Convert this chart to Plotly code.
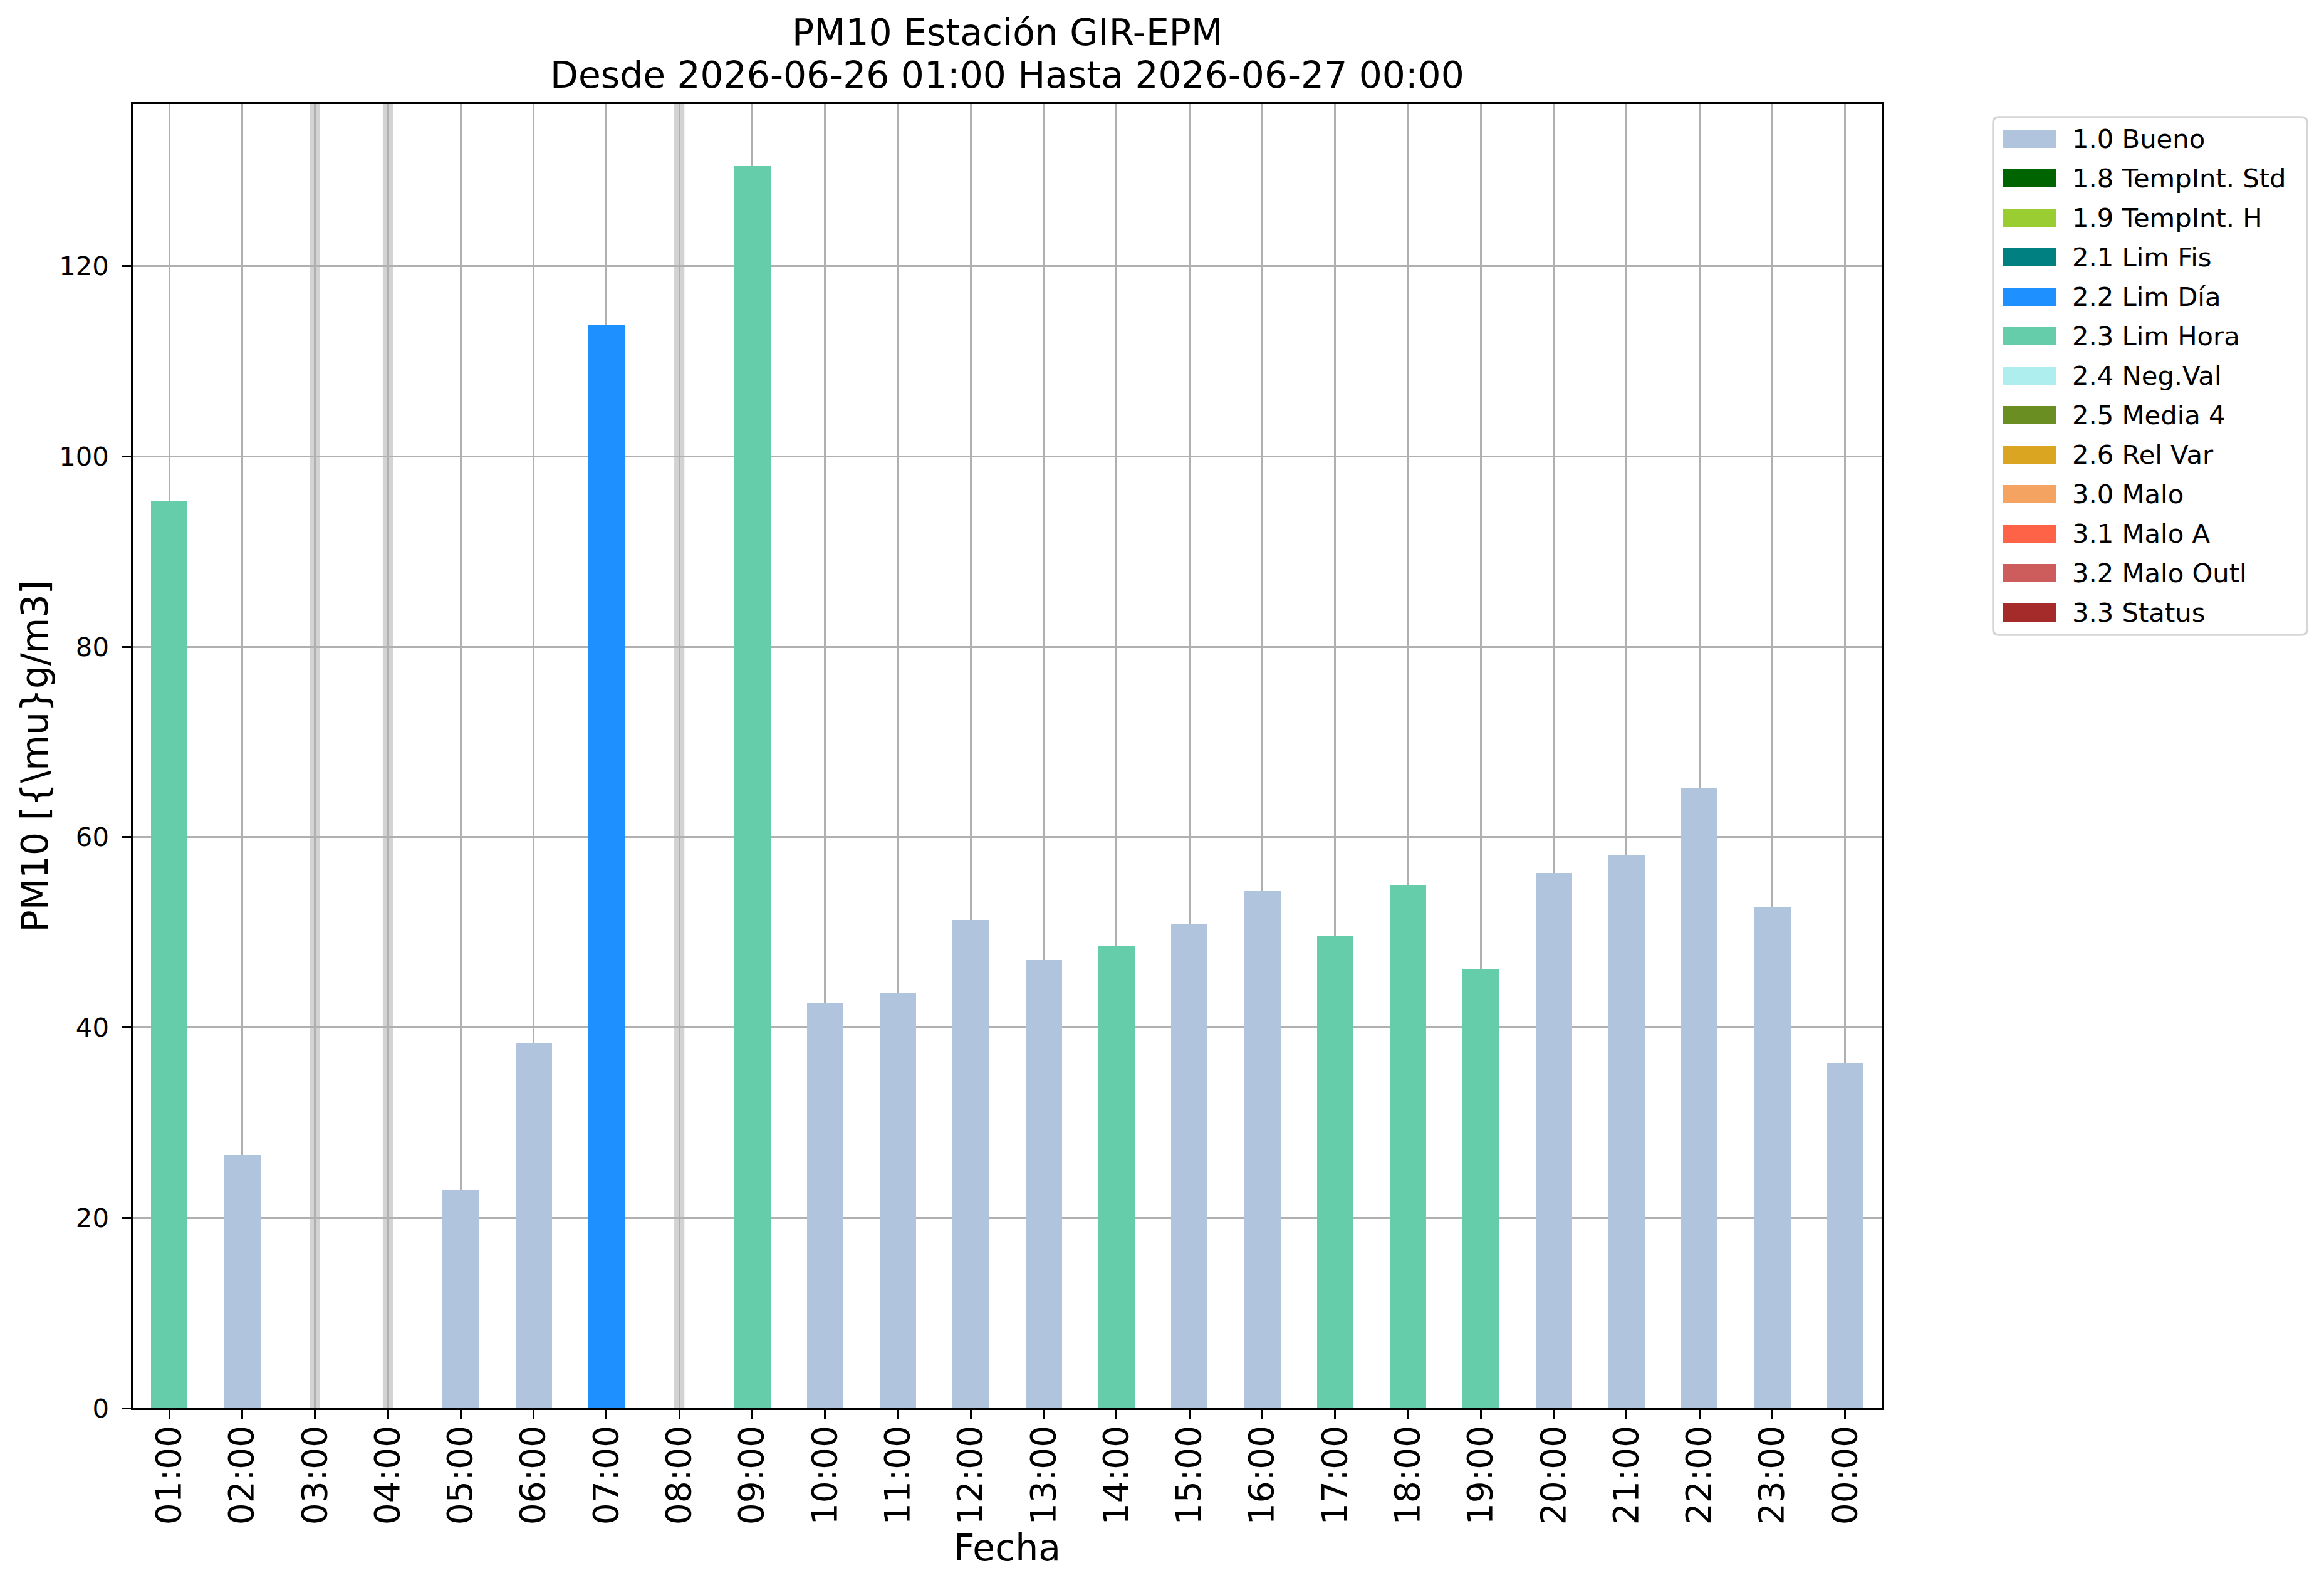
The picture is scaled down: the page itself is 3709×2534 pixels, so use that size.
import plotly.graph_objects as go

# Datos horarios PM10 (None = sin dato)
horas = ["01:00", "02:00", "03:00", "04:00", "05:00", "06:00", "07:00", "08:00",
         "09:00", "10:00", "11:00", "12:00", "13:00", "14:00", "15:00", "16:00",
         "17:00", "18:00", "19:00", "20:00", "21:00", "22:00", "23:00", "00:00"]
pm10 = [95.3, 26.6, None, None, 22.9, 38.4, 113.8, None,
        130.5, 42.6, 43.6, 51.3, 47.1, 48.6, 50.9, 54.3,
        49.6, 55.0, 46.1, 56.2, 58.1, 65.2, 52.7, 36.3]
banderas = ["2.3 Lim Hora", "1.0 Bueno", None, None, "1.0 Bueno", "1.0 Bueno", "2.2 Lim Día", None,
            "2.3 Lim Hora", "1.0 Bueno", "1.0 Bueno", "1.0 Bueno", "1.0 Bueno", "2.3 Lim Hora", "1.0 Bueno", "1.0 Bueno",
            "2.3 Lim Hora", "2.3 Lim Hora", "2.3 Lim Hora", "1.0 Bueno", "1.0 Bueno", "1.0 Bueno", "1.0 Bueno", "1.0 Bueno"]

# Categorias de calidad y sus colores
categorias = ["1.0 Bueno", "1.8 TempInt. Std", "1.9 TempInt. H", "2.1 Lim Fis", "2.2 Lim Día",
              "2.3 Lim Hora", "2.4 Neg.Val", "2.5 Media 4", "2.6 Rel Var", "3.0 Malo",
              "3.1 Malo A", "3.2 Malo Outl", "3.3 Status"]
colores = ["#B0C4DE", "#006400", "#9ACD32", "#008080", "#1E90FF",
           "#66CDAA", "#AFEEEE", "#6B8E23", "#DAA520", "#F4A460",
           "#FF6347", "#CD5C5C", "#A52A2A"]

FUENTE = "DejaVu Sans"
OFF = 8  # margen por defecto del body en la pagina html
W, H = 3709 - OFF, 2534 - OFF
L, R, T, B = 212, 3003, 166, 2247  # area de ejes en pixeles de la imagen


def px_x(x):
    return (x - L) / (R - L)


def px_y(y):
    return (B - y) / (B - T)


fig = go.Figure()

for cat, col in zip(categorias, colores):
    ys = [v if f == cat else None for v, f in zip(pm10, banderas)]
    if all(y is None for y in ys):
        continue
    fig.add_trace(go.Bar(x=horas, y=ys, name=cat, width=0.5,
                         marker=dict(color=col, line=dict(width=0)),
                         showlegend=False))

# franjas grises donde falta el dato
for i, v in enumerate(pm10):
    if v is None:
        fig.add_vrect(x0=i - 0.07, x1=i + 0.07, fillcolor="#D3D3D3",
                      line_width=0, layer="below")

ymax = max(v for v in pm10 if v is not None) * 1.05

fig.update_layout(
    width=W, height=H, autosize=False,
    margin=dict(l=L - OFF, r=3709 - R, t=T - OFF, b=2534 - B, pad=0),
    plot_bgcolor="white", paper_bgcolor="white",
    barmode="overlay", bargap=0,
    font=dict(family=FUENTE, color="black"),
)

fig.update_xaxes(
    type="category", range=[-0.5, len(horas) - 0.5],
    showgrid=True, gridcolor="#B0B0B0", gridwidth=3.3,
    showline=True, mirror=True, linecolor="black", linewidth=3.3,
    ticks="outside", ticklen=14.6, tickwidth=3.3, tickcolor="black",
    tickangle=-90, tickfont=dict(size=55, family=FUENTE, color="black"),
    ticklabelstandoff=-12,
    layer="above traces", zeroline=False,
)
fig.update_yaxes(
    range=[0, ymax], dtick=20, tick0=0,
    showgrid=True, gridcolor="#B0B0B0", gridwidth=3.3,
    showline=True, mirror=True, linecolor="black", linewidth=3.3,
    ticks="outside", ticklen=14.6, tickwidth=3.3, tickcolor="black",
    tickfont=dict(size=41.7, family=FUENTE, color="black"),
    ticklabelstandoff=12,
    layer="above traces", zeroline=False,
)

anots = [
    dict(text="PM10 Estación GIR-EPM", x=0.5, y=px_y(52), size=58.3),
    dict(text="Desde 2026-06-26 01:00 Hasta 2026-06-27 00:00", x=0.5, y=px_y(120), size=58.3),
    dict(text="Fecha", x=0.5, y=px_y(2470), size=58.3),
]
for a in anots:
    fig.add_annotation(text=a["text"], xref="paper", yref="paper", x=a["x"], y=a["y"],
                       xanchor="center", yanchor="middle", showarrow=False,
                       font=dict(size=a["size"], family=FUENTE, color="black"))

fig.add_annotation(text="PM10 [{\\mu}g/m3]", xref="paper", yref="paper",
                   x=px_x(55), y=0.5, textangle=-90, xanchor="center", yanchor="middle",
                   showarrow=False, font=dict(size=58.3, family=FUENTE, color="black"))

# leyenda dibujada a mano (estilo matplotlib)
paso = 63.0
lx0, lx1, ly0 = 3181, 3682, 187
ly1 = 207 + 12 * paso + 29 + 21
rad = 9
path = (f"M {px_x(lx0 + rad)},{px_y(ly0)} L {px_x(lx1 - rad)},{px_y(ly0)} "
        f"Q {px_x(lx1)},{px_y(ly0)} {px_x(lx1)},{px_y(ly0 + rad)} "
        f"L {px_x(lx1)},{px_y(ly1 - rad)} Q {px_x(lx1)},{px_y(ly1)} {px_x(lx1 - rad)},{px_y(ly1)} "
        f"L {px_x(lx0 + rad)},{px_y(ly1)} Q {px_x(lx0)},{px_y(ly1)} {px_x(lx0)},{px_y(ly1 - rad)} "
        f"L {px_x(lx0)},{px_y(ly0 + rad)} Q {px_x(lx0)},{px_y(ly0)} {px_x(lx0 + rad)},{px_y(ly0)} Z")
fig.add_shape(type="path", path=path, xref="paper", yref="paper",
              fillcolor="white", line=dict(color="#D6D6D6", width=3.5))

for i, (cat, col) in enumerate(zip(categorias, colores)):
    top = 207 + i * paso
    fig.add_shape(type="rect", xref="paper", yref="paper",
                  x0=px_x(3197), x1=px_x(3281), y0=px_y(top), y1=px_y(top + 29),
                  fillcolor=col, line_width=0)
    fig.add_annotation(text=cat, xref="paper", yref="paper",
                       x=px_x(3305), y=px_y(top + 14.5), xanchor="left", yanchor="middle",
                       showarrow=False, font=dict(size=41.7, family=FUENTE, color="black"))

fig.write_html("out.html")
